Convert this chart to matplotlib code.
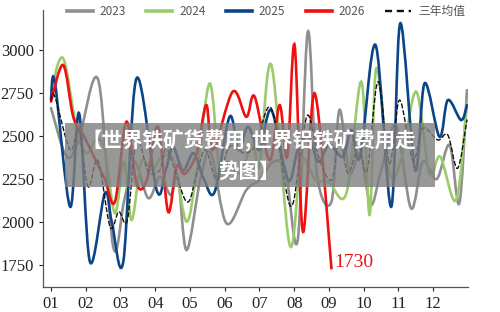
import matplotlib
matplotlib.use("Agg")
import matplotlib.pyplot as plt
import numpy as np
from matplotlib.lines import Line2D
from matplotlib.patches import PathPatch, Rectangle
from matplotlib.path import Path

plt.rcParams["font.family"] = ["Liberation Serif", "Noto Sans CJK SC"]

# month position (01 .. 12.x) and price for each series
x_2023 = [1.0, 1.45, 1.8, 2.36, 2.79, 3.1, 3.4, 3.8, 4.13, 4.45, 4.65, 4.9, 5.3, 5.6,
          6.05, 6.62, 7.0, 7.4, 7.75, 8.1, 8.39, 8.65, 9.07, 9.3, 9.59, 9.9, 10.2,
          10.5, 10.93, 11.36, 11.7, 12.1, 12.47, 12.75, 12.97]
v_2023 = [2663, 2380, 2480, 2826, 1856, 2118, 2350, 2139, 2263, 2157, 2270, 1837, 2250, 2400,
          1992, 2186, 2244, 2350, 2300, 1895, 3106, 2280, 2118, 2651, 2284, 2400, 2100,
          2300, 2560, 2080, 2350, 2250, 2448, 2109, 2767]

x_2024 = [1.0, 1.35, 1.74, 2.03, 2.3, 2.55, 2.84, 3.1, 3.32, 3.6, 3.9, 4.2, 4.55, 4.9,
          5.2, 5.57, 5.85, 6.1, 6.43, 6.8, 7.0, 7.34, 7.87, 8.2, 8.6, 9.0, 9.5, 9.93,
          10.17, 10.36, 10.75, 11.1, 11.51, 11.89, 12.2, 12.66, 12.97]
v_2024 = [2767, 2952, 2535, 2400, 2480, 2420, 2051, 2350, 2012, 2350, 2300, 2380, 2350, 2002,
          2300, 2806, 2300, 2350, 2284, 2450, 2330, 2913, 1866, 2350, 2250, 2230, 2167, 2816,
          2041, 2894, 2283, 2380, 2758, 2283, 2380, 2128, 2690]

x_2025 = [1.0, 1.11, 1.55, 1.81, 2.12, 2.55, 2.75, 3.08, 3.46, 4.04, 4.3, 4.51, 4.8, 5.1,
          5.4, 5.71, 6.14, 6.4, 6.67, 7.0, 7.34, 7.82, 8.1, 8.4, 8.7, 9.0, 9.4, 9.64,
          9.9, 10.34, 10.79, 11.05, 11.48, 11.75, 12.18, 12.42, 12.8, 12.97]
v_2025 = [2709, 2816, 2089, 2632, 1769, 2167, 2000, 1769, 2835, 2186, 2300, 2438, 2300, 2400,
          2250, 2176, 2612, 2419, 2554, 2420, 2651, 2244, 2420, 2500, 2350, 2450, 2380, 2535,
          2380, 3029, 2089, 3155, 2302, 2806, 2496, 2709, 2593, 2680]

x_2026 = [1.0, 1.35, 1.64, 1.93, 2.26, 2.55, 2.84, 3.17, 3.46, 3.75, 4.08, 4.37, 4.61, 4.85,
          5.19, 5.47, 5.66, 6.23, 6.62, 6.86, 7.29, 7.58, 7.8, 8.01, 8.25, 8.59, 9.07]
v_2026 = [2700, 2913, 2612, 2506, 2370, 2250, 2118, 2583, 2225, 2240, 2554, 2060, 2322, 2280,
          2400, 2680, 2419, 2758, 2612, 2729, 2360, 2680, 2380, 3029, 1944, 2748, 1730]

x_avg = [1.0, 1.11, 1.55, 1.8, 2.07, 2.35, 2.7, 2.95, 3.2, 3.46, 3.8, 4.13, 4.35, 4.9,
         5.19, 5.45, 5.78, 6.14, 6.57, 6.9, 7.34, 7.87, 8.15, 8.39, 8.7, 9.07, 9.3, 9.55,
         9.85, 10.1, 10.41, 10.74, 11.03, 11.41, 11.7, 12.13, 12.42, 12.7, 12.97]
v_avg = [2709, 2729, 2419, 2535, 2205, 2360, 1973, 2060, 2012, 2477, 2292, 2302, 2419, 2118,
         2283, 2420, 2244, 2438, 2400, 2450, 2661, 2099, 2350, 2622, 2380, 2244, 2480, 2283,
         2440, 2300, 2816, 2341, 2709, 2360, 2545, 2477, 2506, 2312, 2593]

month_labels = ["01", "02", "03", "04", "05", "06", "07", "08", "09", "10", "11", "12"]
y_ticks = [1750, 2000, 2250, 2500, 2750, 3000]
title_text = "【世界铁矿货费用,世界铝铁矿费用走\n势图】"


def smooth_path(xs, ys):
    """Catmull-Rom through the points, as cubic bezier segments (like Excel smoothing)."""
    pts = np.column_stack([xs, ys]).astype(float)
    p = np.vstack([pts[0], pts, pts[-1]])
    verts = [pts[0]]
    codes = [Path.MOVETO]
    for i in range(1, len(p) - 2):
        p0, p1, p2, p3 = p[i - 1], p[i], p[i + 1], p[i + 2]
        verts += [p1 + (p2 - p0) / 6, p2 - (p3 - p1) / 6, p2]
        codes += [Path.CURVE4] * 3
    return Path(verts, codes)


fig = plt.figure(figsize=(5, 3.12), dpi=100)
ax = fig.add_axes([0.086, 0.080, 0.85, 0.888])

series = [
    ("2023", x_2023, v_2023, "#8f8f8f", "-", 1.9),
    ("2024", x_2024, v_2024, "#9ccb6c", "-", 1.9),
    ("2025", x_2025, v_2025, "#0b4587", "-", 1.9),
    ("2026", x_2026, v_2026, "#f01010", "-", 1.9),
    ("三年均值", x_avg, v_avg, "#111111", (0, (3, 2)), 1.0),
]
handles = []
for name, xs, ys, color, ls, lw in series:
    ax.add_patch(PathPatch(smooth_path(xs, ys), fill=False, edgecolor=color,
                           linestyle=ls, linewidth=lw, capstyle="round"))
    handles.append(Line2D([], [], color=color, linestyle=ls, linewidth=lw + 0.7, label=name))

ax.annotate(str(v_2026[-1]), xy=(x_2026[-1], v_2026[-1]), xytext=(2, 4),
            textcoords="offset points", color="#f01010", fontsize=14,
            ha="left", va="center")

ax.set_xlim(0.77, 13.0)
ax.set_ylim(1622, 3233)
ax.set_xticks(range(1, 13))
ax.set_xticklabels(month_labels)
ax.set_yticks(y_ticks)
ax.tick_params(labelsize=12, colors="#222222", length=3, width=0.8)
for side in ("top", "right"):
    ax.spines[side].set_visible(False)
for side in ("left", "bottom"):
    ax.spines[side].set_color("#555555")
    ax.spines[side].set_linewidth(0.9)

fig.legend(handles=handles, loc="center", bbox_to_anchor=(0.532, 0.962), ncol=5,
           frameon=False, handlelength=2.2, handletextpad=0.6, columnspacing=1.7,
           prop={"family": ["Noto Sans CJK SC"], "size": 8.5}, labelcolor="#555555")

# grey title banner laid over the plot
fig.patches.append(Rectangle((65 / 500, 1 - 187 / 312), 370 / 500, 64 / 312,
                             transform=fig.transFigure, facecolor="#7f7f7f",
                             alpha=0.8, edgecolor="none", zorder=5))
fig.text(0.498, 1 - 156 / 312, title_text, ha="center", va="center", color="white",
         fontsize=14.8, fontweight="bold", linespacing=1.5,
         family=["Noto Sans CJK SC", "DejaVu Sans"], zorder=6)

fig.savefig("out.png", dpi=100)
